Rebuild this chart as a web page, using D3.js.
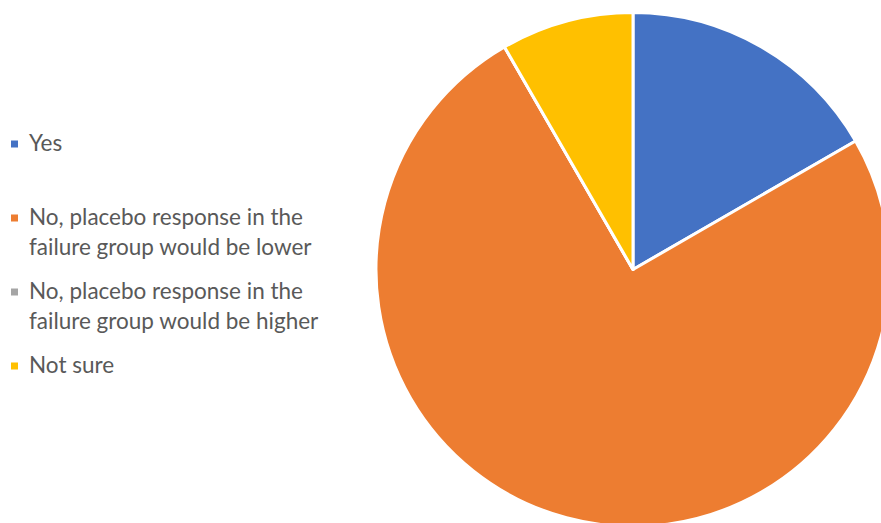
<!DOCTYPE html>
<html>
<head>
<meta charset="utf-8">
<script src="https://cdn.jsdelivr.net/npm/d3@7"></script>
<style>
  html, body { margin: 0; padding: 0; background: #fff; }
  svg { display: block; }
</style>
</head>
<body>
<svg id="chart" width="881" height="523"></svg>
<script>
// Survey responses
const categories = [
  "Yes",
  "No, placebo response in the failure group would be lower",
  "No, placebo response in the failure group would be higher",
  "Not sure"
];
const legendLines = [
  ["Yes"],
  ["No, placebo response in the", "failure group would be lower"],
  ["No, placebo response in the", "failure group would be higher"],
  ["Not sure"]
];
const values = [2, 9, 0, 1];
const colors = ["#4472C4", "#ED7D31", "#A5A5A5", "#FFC000"];

const svg = d3.select("#chart");
const cx = 633, cy = 269.5, R = 257;

const pie = d3.pie().sort(null).value(d => d.value);
const arc = d3.arc().innerRadius(0).outerRadius(R);
const data = categories.map((c, i) => ({ name: c, value: values[i], color: colors[i] }));

svg.append("g")
  .attr("transform", `translate(${cx},${cy})`)
  .selectAll("path")
  .data(pie(data))
  .join("path")
  .attr("d", arc)
  .attr("fill", d => d.data.color)
  .attr("stroke", "#fff")
  .attr("stroke-width", 3)
  .attr("stroke-linejoin", "round");

// Legend
const legendY = [144, 218, 292, 366];
const lineH = 29.5;
const legend = svg.append("g");
data.forEach((d, i) => {
  const g = legend.append("g").attr("transform", `translate(0,${legendY[i]})`);
  g.append("rect")
    .attr("x", 11).attr("y", -3.5)
    .attr("width", 7).attr("height", 7)
    .attr("fill", d.color);
  const t = g.append("text")
    .attr("x", 29)
    .attr("y", 0)
    .attr("font-family", "Lato, 'Open Sans', sans-serif")
    .attr("font-size", 22.5)
    .attr("fill", "#595959");
  legendLines[i].forEach((ln, j) => {
    t.append("tspan").attr("x", 29).attr("y", j * lineH).attr("dy", "0.33em").text(ln);
  });
});
</script>
</body>
</html>
